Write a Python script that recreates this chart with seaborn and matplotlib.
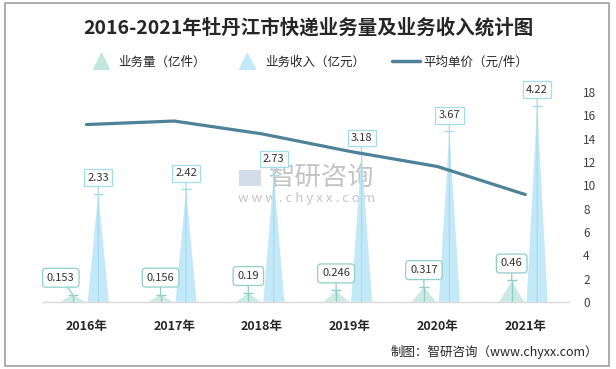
import numpy as np
import matplotlib
matplotlib.use("Agg")
import matplotlib.pyplot as plt
import seaborn as sns
from matplotlib.lines import Line2D
from matplotlib.patches import Rectangle
from matplotlib.transforms import offset_copy

# ------------------------------------ data ----------------------------------------
years = ["2016年", "2017年", "2018年", "2019年", "2020年", "2021年"]
volume = [0.153, 0.156, 0.19, 0.246, 0.317, 0.46]      # 业务量（亿件）
revenue = [2.33, 2.42, 2.73, 3.18, 3.67, 4.22]         # 业务收入（亿元）
price = [15.2, 15.5, 14.4, 12.9, 11.6, 9.2]            # 平均单价（元/件）
price_ticks = [0, 2, 4, 6, 8, 10, 12, 14, 16, 18]

# ------------------------------------ style ----------------------------------------
sns.set_theme(style="white")
plt.rcParams['font.family'] = ['Noto Sans CJK SC', 'DejaVu Sans']

c_vol = "#c3e6df"
c_vol_edge = "#8fcfc6"
c_rev = "#c3e9f8"
c_rev_edge = "#a4dbef"
c_line = "#4e8297"
c_mark = "#c4c4c4"

fig = plt.figure(figsize=(6.16, 3.69), dpi=100)
ax = fig.add_axes([0.069, 0.182, 0.855, 0.569])
ax2 = ax.twinx()

pos = np.arange(len(years))
off_v, off_r = -0.155, 0.135
hw_v, hw_r = 0.14, 0.12

# ------------------------------------ watermark (behind the marks) ----------------------------------------
ax.text(0.436, 0.52, "智研咨询", transform=fig.transFigure, ha="left", va="center",
        fontsize=19, color=c_mark, zorder=1)
ax.text(0.386, 0.462, "w w w . c h y x x . c o m", transform=fig.transFigure, ha="left",
        va="center", fontsize=9.5, color=c_mark, zorder=1)
ax.add_patch(Rectangle((0.388, 0.495), 0.035, 0.045, transform=fig.transFigure,
                       fc="#c9d1e3", ec="none", alpha=0.8, zorder=1))

# ------------------------------------ triangles ----------------------------------------
for i in pos:
    xv = i + off_v
    ax.fill([xv - hw_v, xv, xv + hw_v], [0, volume[i], 0], color=c_vol, alpha=0.85, lw=0, zorder=2)
    xr = i + off_r
    ax.fill([xr - hw_r, xr, xr + hw_r], [0, revenue[i], 0], color=c_rev, lw=0, zorder=2)

# ------------------------------------ labels ----------------------------------------
vol_dx = [-12, 0, 0, 0, 0, 0]
above = offset_copy(ax.transData, fig=fig, x=0, y=16, units="dots")
for i in pos:
    xv = i + off_v
    ax.vlines(xv, 0, volume[i], color=c_vol_edge, lw=1, zorder=3)
    ax.plot([xv], [volume[i]], marker="_", ms=7, mew=1, color=c_vol_edge, zorder=3)
    ax.annotate(str(volume[i]), xy=(xv, volume[i]), xytext=(vol_dx[i], 17),
                textcoords="offset pixels", ha="center", va="center",
                fontsize=8, color="#333333", zorder=5,
                bbox=dict(boxstyle="round,pad=0.4,rounding_size=0.3", fc="white", ec=c_vol_edge, lw=0.9),
                arrowprops=dict(arrowstyle="-", color=c_vol_edge, lw=0.9, shrinkA=0, shrinkB=0))

    xr = i + off_r
    ax.plot([xr], [revenue[i]], marker="_", ms=7, mew=1, color=c_rev_edge, zorder=3)
    ax.annotate(f"{revenue[i]:.2f}", xy=(xr, 0), xytext=(xr, revenue[i]),
                textcoords=above, ha="center", va="center", fontsize=8, color="#333333",
                zorder=5,
                bbox=dict(boxstyle="square,pad=0.3", fc="white", ec=c_rev_edge, lw=0.9),
                arrowprops=dict(arrowstyle="-", color=c_rev_edge, lw=0.9, shrinkA=0, shrinkB=0))

ax.set_xlim(-0.5, len(years) - 0.5)
ax.set_ylim(0, 4.52)
ax.set_xticks(pos)
ax.set_xticklabels(years, fontsize=9, fontweight="bold", color="#262626")
ax.tick_params(axis="x", length=0, pad=13)
ax.set_yticks([])
for s in ["top", "left", "right"]:
    ax.spines[s].set_visible(False)
ax.spines["bottom"].set_color("#d9d9d9")
ax.spines["bottom"].set_linewidth(1)

# ------------------------------------ price line ----------------------------------------
sns.lineplot(x=pos, y=price, ax=ax2, color=c_line, linewidth=2.3)
ax2.set_ylim(0, 18)
ax2.set_yticks(price_ticks)
ax2.set_yticklabels([str(v) for v in price_ticks], fontsize=8.5, color="#404040")
ax2.tick_params(axis="y", length=0, pad=10)
for s in ["top", "left", "right", "bottom"]:
    ax2.spines[s].set_visible(False)

# ------------------------------------ title, legend, notes ----------------------------------------
fig.text(0.5, 0.925, "2016-2021年牡丹江市快递业务量及业务收入统计图", ha="center", va="center",
         fontsize=14, fontweight="bold", color="#262626")

handles = [
    Line2D([], [], marker="^", ls="none", ms=11, color=c_vol, mec=c_vol),
    Line2D([], [], marker="^", ls="none", ms=11, color=c_rev, mec=c_rev),
    Line2D([], [], color=c_line, lw=2.5),
]
fig.legend(handles, ["业务量（亿件）", "业务收入（亿元）", "平均单价（元/件）"],
           loc="center", bbox_to_anchor=(0.5, 0.832), ncol=3, frameon=False,
           fontsize=9, columnspacing=2.2, handlelength=2.2, handletextpad=0.3)

fig.text(0.971, 0.046, "制图：智研咨询（www.chyxx.com）", ha="right", va="center",
         fontsize=9, color="#262626")

fig.patches.append(Rectangle((0.008, 0.008), 0.981, 0.984, transform=fig.transFigure,
                             fill=False, ec="#a6a6a6", lw=1.3))

fig.savefig("out.png", dpi=100)
